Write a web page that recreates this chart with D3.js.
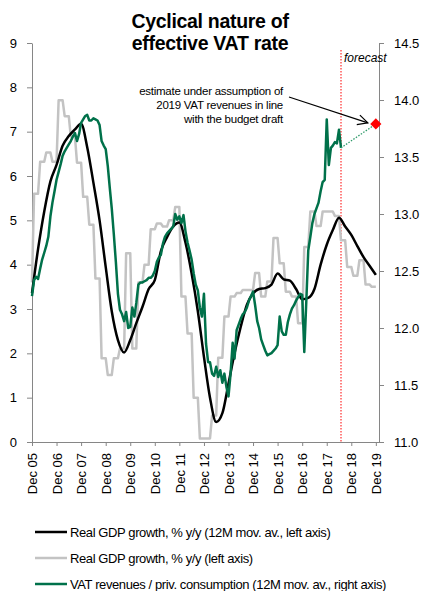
<!DOCTYPE html>
<html>
<head>
<meta charset="utf-8">
<script src="https://cdn.jsdelivr.net/npm/d3@7"></script>
<style>
body { margin: 0; background: #fff; }
svg text { font-family: "Liberation Sans", Arial, sans-serif; fill: #000; }
</style>
</head>
<body>
<div id="chart"></div>
<script>
// Real GDP growth % y/y, quarterly (Q4 05 .. Q4 19), left axis
const gdpQuarterly = [3.6,
  5.6, 6.32, 6.53, 6.32,   7.71, 7.35, 6.89, 6.3,   5.53, 4.9, 3.69, 1.89,
  1.51, 1.89, 2.11, 4.26,  2.11, 3.6, 4.0, 4.8,     4.93, 4.86, 5.0, 5.3,
  3.28, 2.45, 1.0, 0.08,   0.08, 0.6, 1.9, 2.83,    3.28, 3.36, 3.43, 3.43,
  3.81, 3.28, 3.62, 4.6,   4.03, 3.39, 3.28, 2.68,  4.4, 5.2, 4.87, 5.2,
  5.2, 5.1, 4.55, 3.95,    3.75, 4.1, 3.55, 3.5];

// Real GDP growth 12M moving average, every 3rd month from Dec 05 to Dec 19, left axis
const gdpAvg = [3.36,
  4.35, 5.2, 5.88, 6.25,   6.68, 6.9, 7.05, 7.18,   6.65, 5.85, 5.0, 3.95,
  2.95, 2.3, 2.02, 2.3,    2.68, 3.05, 3.45, 3.65,  4.3, 4.62, 4.86, 4.95,
  4.5, 3.8, 2.95, 1.92,    1.0, 0.45, 0.65, 1.32,   2.0, 2.6, 3.1, 3.35,
  3.45, 3.47, 3.55, 3.8,   3.67, 3.64, 3.45, 3.22,  3.25, 3.45, 4.0, 4.45,
  4.78, 5.06, 4.86, 4.67,  4.42, 4.17, 3.97, 3.77];

// VAT revenues / private consumption, 12M mov. av., monthly Dec 05 .. Jul 18, right axis
const vatRatio = [12.28,
  12.42, 12.45, 12.43, 12.52, 12.6, 12.66, 12.72, 12.8, 12.98, 13.1, 13.2, 13.3,
  13.37, 13.44, 13.51, 13.55, 13.58, 13.61, 13.64, 13.68, 13.71, 13.64, 13.7, 13.8,
  13.83, 13.86, 13.87, 13.82, 13.82, 13.84, 13.83, 13.82, 13.78, 13.64, 13.6, 13.57,
  13.42, 13.22, 13.05, 12.82, 12.58, 12.3, 12.16, 12.12, 12.06, 12.14, 12.0, 12.01,
  12.18, 12.1, 12.22, 12.38, 12.4, 12.4, 12.41, 12.42, 12.44, 12.44, 12.46, 12.5,
  12.58, 12.62, 12.64, 12.74, 12.8, 12.83, 12.85, 12.87, 12.89, 13.0, 12.95, 12.98,
  12.92, 12.99, 12.85, 12.75, 12.68, 12.6, 12.48, 12.38, 12.33, 12.18, 12.1, 12.3,
  11.86, 11.7, 11.7, 11.6, 11.58, 11.66, 11.57, 11.63, 11.52, 11.6, 11.48, 11.4,
  11.6, 11.87, 11.73, 11.98, 12.03, 12.08, 12.12, 12.14, 12.18, 12.24, 12.28, 12.32,
  12.2, 12.06, 12.0, 11.9, 11.85, 11.8, 11.76, 11.77, 11.78, 11.8, 11.82, 11.85,
  12.1, 11.97, 11.94, 11.94, 12.05, 12.12, 12.17, 12.2, 12.24, 12.27, 12.3, 12.29,
  11.79, 12.25, 12.68, 12.8, 12.92, 13.0, 13.05, 13.1, 13.2, 13.28, 13.3, 13.83,
  13.43, 13.58, 13.6, 13.63, 13.62, 13.74, 13.58];

const vatEstimate2019 = 13.79;       // budget draft estimate, Dec 19
const forecastStart = [2018, 6];      // Jul 2018
const leftTicks = [0, 1, 2, 3, 4, 5, 6, 7, 8, 9];
const rightTicks = [11.0, 11.5, 12.0, 12.5, 13.0, 13.5, 14.0, 14.5];
const legendLabels = [
  "Real GDP growth, % y/y (12M mov. av., left axis)",
  "Real GDP growth, % y/y (left axis)",
  "VAT revenues / priv. consumption (12M mov. av., right axis)"
];
const colors = { avg: "#000000", gdp: "#c3c3c3", vat: "#00714a" };

const month = m => new Date(2005, 11 + m, 1);

let plot = { left: 32, right: 379, top: 43, bottom: 442 };

let svg = d3.select("#chart").append("svg")
  .attr("width", 421).attr("height", 591);

let x = d3.scaleTime()
  .domain([new Date(2005, 11, 1), new Date(2020, 0, 17)])
  .range([plot.left, plot.right]);
let yL = d3.scaleLinear().domain([0, 9]).range([plot.bottom, plot.top]);
let yR = d3.scaleLinear().domain([11, 14.5]).range([plot.bottom, plot.top]);

// title
svg.append("text").attr("x", 210).attr("y", 28).attr("text-anchor", "middle")
  .style("font-size", "19.5px").style("font-weight", "bold").style("letter-spacing", "-0.3px")
  .text("Cyclical nature of");
svg.append("text").attr("x", 210).attr("y", 50).attr("text-anchor", "middle")
  .style("font-size", "19.5px").style("font-weight", "bold").style("letter-spacing", "-0.3px")
  .text("effective VAT rate");

// axes
function styleAxis(g) {
  g.selectAll(".domain, .tick line").attr("stroke", "#868686");
  g.selectAll("text").style("font-size", "13px").attr("fill", "#000");
}

svg.append("g")
  .attr("transform", "translate(" + plot.left + ",0)")
  .call(d3.axisLeft(yL).tickValues(leftTicks).tickFormat(d3.format("d")).tickSize(5).tickSizeOuter(0).tickPadding(10))
  .call(styleAxis);

svg.append("g")
  .attr("transform", "translate(" + plot.right + ",0)")
  .call(d3.axisRight(yR).tickValues(rightTicks).tickFormat(d3.format(".1f")).tickSize(5).tickSizeOuter(0).tickPadding(10))
  .call(styleAxis);

let decTicks = d3.range(0, 15).map(i => new Date(2005 + i, 11, 1));
let xAxis = svg.append("g")
  .attr("transform", "translate(0," + plot.bottom + ")")
  .call(d3.axisBottom(x).tickValues(decTicks).tickFormat(d3.timeFormat("%b %y")).tickSize(4).tickSizeOuter(0))
  .call(styleAxis);
xAxis.selectAll("text")
  .attr("text-anchor", "end")
  .attr("transform", "rotate(-90)")
  .attr("x", -11).attr("y", 0).attr("dy", "0.36em");

// forecast marker
let fx = x(new Date(forecastStart[0], forecastStart[1], 1));
svg.append("line")
  .attr("x1", fx).attr("x2", fx).attr("y1", 50).attr("y2", plot.bottom)
  .attr("stroke", "#ff0000").attr("stroke-width", 1).attr("stroke-dasharray", "1.5,1.5");
svg.append("text").attr("x", fx + 3).attr("y", 62)
  .style("font-size", "12px").style("font-style", "italic").text("forecast");

// series
let gdpMonthly = [];
gdpQuarterly.forEach(function (v, i) {
  if (i === 0) gdpMonthly.push({ d: month(0), v: v });
  else for (let k = 0; k < 3; k++) gdpMonthly.push({ d: month(3 * i - 2 + k), v: v });
});
let avgData = gdpAvg.map((v, i) => ({ d: month(3 * i), v: v }));
let vatData = vatRatio.map((v, i) => ({ d: month(i), v: v }));

svg.append("path").datum(gdpMonthly)
  .attr("fill", "none").attr("stroke", colors.gdp).attr("stroke-width", 2.5)
  .attr("stroke-linejoin", "round")
  .attr("d", d3.line().x(d => x(d.d)).y(d => yL(d.v)));

svg.append("path").datum(avgData)
  .attr("fill", "none").attr("stroke", colors.avg).attr("stroke-width", 2.5)
  .attr("d", d3.line().curve(d3.curveMonotoneX).x(d => x(d.d)).y(d => yL(d.v)));

svg.append("path").datum(vatData)
  .attr("fill", "none").attr("stroke", colors.vat).attr("stroke-width", 2.5)
  .attr("stroke-linejoin", "round")
  .attr("d", d3.line().x(d => x(d.d)).y(d => yR(d.v)));

// estimate
let lastVat = vatData[vatData.length - 1];
let est = { d: new Date(2019, 11, 1), v: vatEstimate2019 };
svg.append("line")
  .attr("x1", x(lastVat.d)).attr("y1", yR(lastVat.v))
  .attr("x2", x(est.d)).attr("y2", yR(est.v))
  .attr("stroke", "#2f9a6a").attr("stroke-width", 1.3).attr("stroke-dasharray", "1.5,1.5");
svg.append("path")
  .attr("d", d3.symbol(d3.symbolSquare, 62)())
  .attr("transform", "translate(" + x(est.d) + "," + yR(est.v) + ") rotate(45)")
  .attr("fill", "#ff0000");

// annotation
let note = svg.append("text").attr("text-anchor", "end")
  .style("font-size", "11.5px").style("letter-spacing", "-0.25px");
["estimate under assumption of", "2019 VAT revenues in line", "with the budget draft"]
  .forEach((t, i) => note.append("tspan").attr("x", 283).attr("y", 95 + i * 14).text(t));

svg.append("defs").append("marker")
  .attr("id", "arrow").attr("viewBox", "-1 -6 12 12")
  .attr("refX", 10).attr("refY", 0)
  .attr("markerUnits", "userSpaceOnUse")
  .attr("markerWidth", 12).attr("markerHeight", 12)
  .attr("orient", "auto")
  .append("path").attr("d", "M0,-5L10,0L0,5")
  .attr("fill", "none").attr("stroke", "#000").attr("stroke-width", 1.2);
svg.append("line")
  .attr("x1", 289).attr("y1", 97).attr("x2", x(est.d) - 8).attr("y2", yR(est.v) - 1)
  .attr("stroke", "#000").attr("stroke-width", 1.2).attr("marker-end", "url(#arrow)");

// legend
let legend = svg.append("g");
let legendColors = [colors.avg, colors.gdp, colors.vat];
legendLabels.forEach(function (t, i) {
  let ly = 532 + i * 26;
  legend.append("line").attr("x1", 35).attr("x2", 67).attr("y1", ly).attr("y2", ly)
    .attr("stroke", legendColors[i]).attr("stroke-width", 2.5);
  legend.append("text").attr("x", 70).attr("y", ly + 5)
    .style("font-size", "13px").style("letter-spacing", "-0.4px").text(t);
});
</script>
</body>
</html>
